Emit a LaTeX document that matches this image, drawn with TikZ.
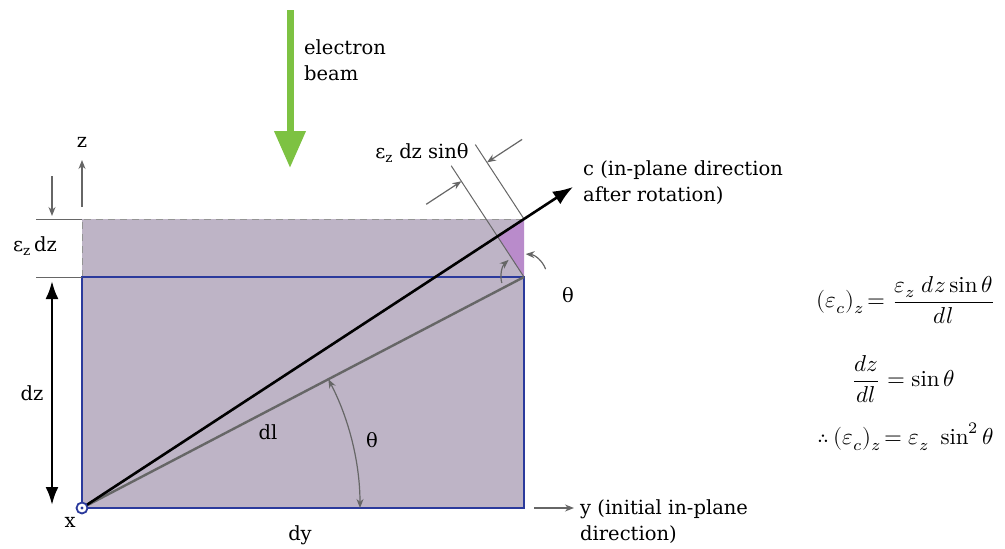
\documentclass[tikz,border=0pt]{standalone}
\usepackage{amsmath}
\usepackage{graphicx}
\usepackage{fontspec}
\usepackage{unicode-math}
\setmainfont{DejaVu Serif}
\setmathfont{Latin Modern Math}
\setmathrm{Latin Modern Roman}
\usetikzlibrary{arrows.meta,calc}
\definecolor{slab}{HTML}{BEB4C6}
\definecolor{wedge}{HTML}{B98BCB}
\definecolor{edge}{HTML}{2B3A9C}
\definecolor{guide}{HTML}{666666}
\definecolor{beam}{HTML}{7DC242}
\newcommand{\bigeq}[1]{\scalebox{2.3}{$\displaystyle #1$}}

\begin{document}
\begin{tikzpicture}[x=1pt,y=-1pt,font=\fontsize{19.5}{26}\selectfont,
lbl/.style={inner sep=0pt,align=left},
eqn/.style={inner sep=0pt,font=\normalsize},
garr/.style={-{Stealth[length=9pt,width=7pt]},line width=1.2pt,draw=guide},
karr/.style={line width=2.6pt,draw=black},
ext/.style={line width=1pt,draw=guide}]
\useasboundingbox (0,0) rectangle (1005,549);
% corners of the slab
\coordinate (O) at (82,508);
\coordinate (B) at (524,277);
\coordinate (T) at (524,219);
\coordinate (TL) at (82,219);
\coordinate (BL) at (82,277);
\coordinate (R) at (524,508);
\coordinate (F) at ($(O)!(B)!(T)$);
\coordinate (C) at ($(O)!1.111!(T)$);
\fill[slab] (TL) rectangle (R);
\fill[wedge] (T)--(B)--(F)--cycle;
\draw[guide!70,line width=1pt,dash pattern=on 7pt off 5pt] (BL)--(TL)--(T);
\draw[edge,line width=2pt] (BL) rectangle (R);
\draw[ext] (36,219)--(TL);\draw[ext] (36,277)--(BL);
% strain lines
\coordinate (p1) at ($(B)+(-123.2:133)$);
\coordinate (p2) at ($(T)+(-123.2:89)$);
\draw[guide,line width=1pt] (B)--(p1);\draw[guide,line width=1pt] (T)--(p2);
\coordinate (q1) at ($(B)!0.86!(p1)$);
\coordinate (q2) at ($(T)!0.76!(p2)$);
\draw[garr] ($(q1)+(-33.2:-42)$)--(q1);
\draw[garr] ($(q2)+(-33.2:42)$)--(q2);
\draw[garr] ($(B)+(-195:23)$) arc[start angle=-195,end angle=-132,radius=23];
\draw[garr] ($(B)+(-20:23)$) arc[start angle=-20,end angle=-86,radius=23];
% directions
\draw[guide,line width=2.4pt] (O)--(B);
\draw[karr,-{Latex[length=20pt,width=15pt]}] (O)--(C);
\draw[garr,{Stealth[length=9pt,width=7pt]}-{Stealth[length=9pt,width=7pt]}] ($(O)+(0:278)$) arc[start angle=0,end angle=-27.6,radius=278];
\draw[karr,{Latex[length=18pt,width=13pt]}-{Latex[length=18pt,width=13pt]}] (52,281)--(52,505);
\draw[garr] (52,176)--(52,216);
\draw[garr] (82,207)--(82,160);
\draw[garr] (534,508)--(574,508);
\draw[beam,line width=7pt,-{Triangle[length=37pt,width=30pt]}] (290,10)--(290,168);
\node[circle,draw=edge,line width=1.8pt,fill=white,minimum size=11pt,inner sep=0pt] (orig) at (O) {};
\fill[edge] (O) circle (1.6pt);
% labels
\node[lbl] (zlab) at (82,142) {z};
\node[lbl] (ezdz) at (35,246) {ε\textsubscript{z}\,dz};
\node[lbl] (dzlab) at (32,393) {dz};
\node[lbl] (xlab) at (70,522) {x};
\node[lbl] (dylab) at (300,535) {dy};
\node[lbl] (dllab) at (268,432) {dl};
\node[lbl] (th1) at (372,440) {θ};
\node[lbl] (th2) at (568,295) {θ};
\node[lbl,anchor=west] (ebeam) at (304,60) {electron\\beam};
\node[lbl] (ezsin) at (422,153) {ε\textsubscript{z} dz sinθ};
\node[lbl,anchor=west] (clab) at (583,183) {c (in-plane direction\\after rotation)};
\node[lbl,anchor=west] (ylab) at (580,522) {y (initial in-plane\\direction)};
\node[eqn] (eq1) at (906,300) {\bigeq{(\varepsilon_c)_z\!= \frac{\varepsilon_z\; dz\sin\theta}{dl}}};
\node[eqn] (eq2) at (903,379) {\bigeq{\frac{dz}{dl} = \sin\theta}};
\node[eqn] (eq3) at (906,437) {\bigeq{\therefore\,(\varepsilon_c)_z\!= \varepsilon_z\ \sin^2\theta}};
\end{tikzpicture}
\end{document}
